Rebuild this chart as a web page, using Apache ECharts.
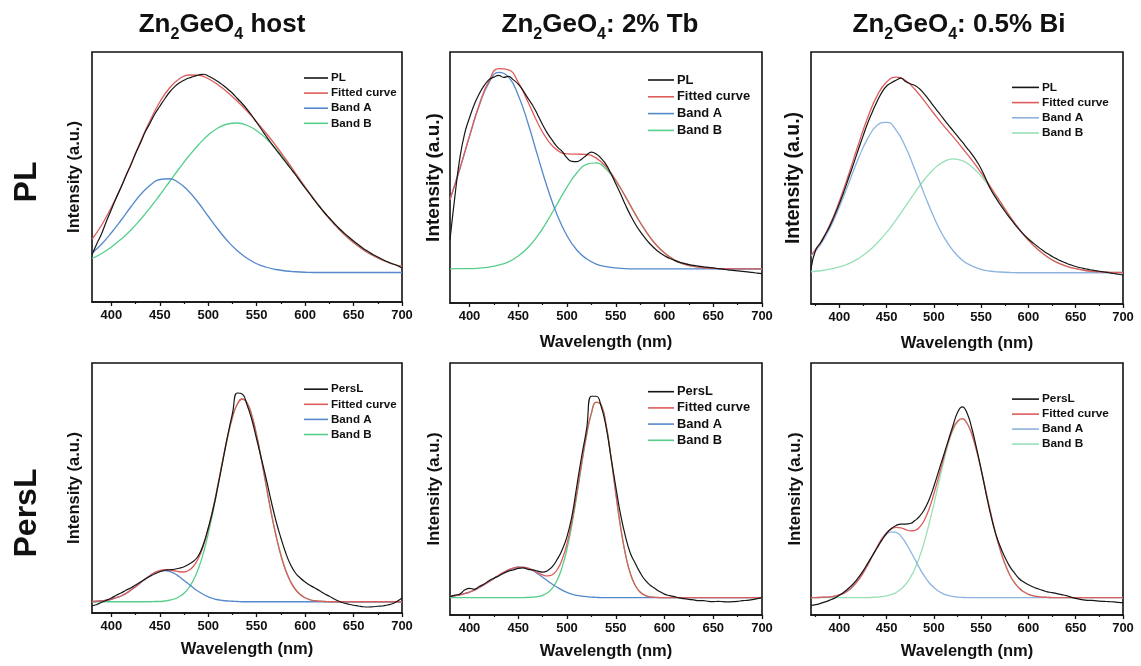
<!DOCTYPE html>
<html>
<head>
<meta charset="utf-8">
<script src="https://cdn.jsdelivr.net/npm/echarts@6/dist/echarts.min.js"></script>
<style>
  html, body { margin: 0; padding: 0; background: #ffffff; }
  #main { width: 1141px; height: 666px; }
</style>
</head>
<body>
<div id="main"></div>
<script>
// ---------- wavelength grids (nm) ----------
const wl10a = [380,390,400,410,420,430,440,450,460,470,480,490,500,510,520,530,540,550,560,570,580,590,600,610,620,630,640,650,660,670,680,690,700];
const wl10b = [370,380,390,400,410,420,430,440,450,460,470,480,490,500,510,520,530,540,550,560,570,580,590,600,610,620,630,640,650,660,670,680,690,700];
const wl5a = [380,385,390,395,400,405,410,415,420,425,430,435,440,445,450,455,460,465,470,475,480,485,490,495,500,505,510,515,520,525,530,535,540,545,550,555,560,565,570,575,580,585,590,595,600,605,610,615,620,625,630,635,640,645,650,655,660,665,670,675,680,685,690,695,700];
const wl5b = [370,375,380,385,390,395,400,405,410,415,420,425,430,435,440,445,450,455,460,465,470,475,480,485,490,495,500,505,510,515,520,525,530,535,540,545,550,555,560,565,570,575,580,585,590,595,600,605,610,615,620,625,630,635,640,645,650,655,660,665,670,675,680,685,690,695,700];

// ---------- axis tick values ----------
const majorTicks = [400, 450, 500, 550, 600, 650, 700];
const minorTicksA = [425, 475, 525, 575, 625, 675];
const minorTicksB = [375, 425, 475, 525, 575, 625, 675];

// ---------- text ----------
// each heading alternates normal text and subscript pieces
const columnTitles = [
  ['Zn', '2', 'GeO', '4', ' host'],
  ['Zn', '2', 'GeO', '4', ': 2% Tb'],
  ['Zn', '2', 'GeO', '4', ': 0.5% Bi']
];
const rowTitles = ['PL', 'PersL'];
const legendNames = { fit: 'Fitted curve', a: 'Band A', b: 'Band B' };
const xTitle = 'Wavelength (nm)';
const yTitle = 'Intensity (a.u.)';

// ---------- Zn2GeO4 host, PL (intensity, a.u.) ----------
const hostPL = [
  18.9, 23.3, 27.4, 32.4, 37.0, 41.6, 45.9, 50.5, 54.7, 59.4,
  63.6, 68.1, 71.6, 75.3, 78.3, 81.2, 83.9, 86.0, 87.6, 88.7,
  89.6, 90.2, 90.8, 91.1, 90.4, 89.4, 88.2, 86.8, 85.2, 83.5,
  81.4, 79.4, 77.1, 74.6, 71.8, 69.0, 66.2, 63.5, 60.9, 58.4,
  55.9, 53.4, 50.9, 48.2, 45.6, 43.1, 40.5, 38.1, 35.7, 33.6,
  31.5, 29.5, 27.7, 26.0, 24.4, 22.9, 21.4, 20.2, 19.0, 18.0,
  17.0, 16.1, 15.3, 14.6, 13.6
];
const hostPLFit = [25.1,30.8,37.9,46.0,54.9,64.1,72.6,80.0,85.6,89.2,90.8,90.7,89.3,86.9,83.8,80.3,76.4,72.0,67.4,62.4,57.1,51.6,46.0,40.7,35.7,31.2,27.2,23.8,20.9,18.6,16.7,15.3,14.2];
const hostPLBandA = [19.5,23.2,27.7,32.7,38.0,42.9,46.7,49.0,49.3,47.6,44.2,39.6,34.3,29.1,24.4,20.5,17.5,15.3,13.9,13.0,12.4,12.1,11.9,11.8,11.8,11.8,11.8,11.8,11.8,11.8,11.8,11.8,11.8];
const hostPLBandB = [17.4,19.4,22.0,25.1,28.7,33.0,37.7,42.8,48.1,53.4,58.4,62.9,66.8,69.6,71.2,71.6,70.7,68.5,65.3,61.2,56.5,51.3,45.9,40.7,35.7,31.2,27.2,23.8,20.9,18.6,16.7,15.3,14.2];

// ---------- Zn2GeO4: 2% Tb, PL ----------
const tbPL = [
  25.2, 42.4, 57.5, 67.5, 73.8, 79.2, 83.4, 86.6, 89.0, 90.0,
  90.7, 89.9, 90.3, 88.9, 87.2, 84.6, 81.5, 78.6, 74.9, 71.0,
  67.6, 64.8, 62.2, 60.4, 57.8, 56.4, 56.3, 57.3, 58.9, 60.1,
  59.4, 57.6, 55.2, 51.6, 47.5, 43.4, 39.0, 35.0, 31.5, 28.5,
  25.9, 23.6, 21.7, 20.1, 18.8, 17.8, 17.0, 16.3, 15.8, 15.3,
  15.0, 14.7, 14.4, 14.2, 14.0, 13.7, 13.5, 13.2, 13.0, 12.8,
  12.6, 12.4, 12.2, 11.9, 11.7
];
const tbPLFit = [41.2,53.4,66.5,79.0,88.5,93.4,92.9,87.9,80.1,71.7,65.0,60.9,59.4,59.3,59.2,57.7,54.3,49.0,42.4,35.4,29.1,23.8,19.9,17.2,15.5,14.6,14.0,13.8,13.7,13.6,13.6,13.6,13.6];
const tbPLBandA = [41.2,53.3,66.4,78.7,87.8,91.9,90.1,82.8,71.6,58.5,45.8,35.0,26.8,21.1,17.6,15.5,14.5,14.0,13.7,13.6,13.6,13.6,13.6,13.6,13.6,13.6,13.6,13.6,13.6,13.6,13.6,13.6,13.6];
const tbPLBandB = [13.6,13.7,13.7,13.9,14.3,15.1,16.4,18.7,22.1,26.8,32.8,39.5,46.2,51.8,55.2,55.8,53.4,48.6,42.3,35.4,29.1,23.8,19.9,17.2,15.5,14.6,14.0,13.8,13.7,13.6,13.6,13.6,13.6];

// ---------- Zn2GeO4: 0.5% Bi, PL ----------
const biPL = [
  14.0, 21.5, 24.2, 27.5, 31.0, 35.2, 39.8, 44.8, 50.2, 55.6,
  61.2, 66.6, 71.8, 76.3, 80.5, 84.0, 86.5, 87.8, 88.8, 89.6,
  88.3, 87.4, 86.7, 85.3, 83.3, 80.9, 78.4, 76.0, 73.6, 71.2,
  68.9, 66.6, 64.3, 61.9, 59.5, 56.8, 53.6, 49.6, 45.5, 42.4,
  39.5, 36.8, 34.3, 31.9, 29.6, 27.6, 25.8, 24.2, 22.7, 21.3,
  20.0, 18.9, 17.9, 17.0, 16.2, 15.5, 14.9, 14.4, 14.0, 13.6,
  13.3, 13.0, 12.7, 12.4, 12.1, 11.8, 11.5
];
const biPLFit = [19.4,24.4,31.5,40.8,51.6,63.2,74.0,82.7,88.1,90.0,88.7,85.1,80.5,75.6,70.9,66.5,61.9,57.2,52.0,46.4,40.7,35.0,29.8,25.3,21.6,18.7,16.5,15.0,14.0,13.3,12.9,12.7,12.5,12.5];
const biPLBandA = [19.0,23.6,30.1,38.5,48.0,57.6,65.7,70.9,72.1,69.0,62.3,53.2,43.5,34.4,26.9,21.3,17.4,15.1,13.7,13.0,12.7,12.5,12.4,12.4,12.4,12.4,12.4,12.4,12.4,12.4,12.4,12.4,12.4,12.4];
const biPLBandB = [12.8,13.2,13.8,14.7,16.0,18.0,20.7,24.2,28.4,33.4,38.8,44.3,49.4,53.6,56.4,57.6,56.9,54.5,50.7,45.8,40.4,34.9,29.8,25.3,21.6,18.7,16.5,15.0,14.0,13.3,12.9,12.7,12.5,12.5];

// ---------- Zn2GeO4 host, PersL ----------
const hostPersL = [
  2.9, 3.4, 4.3, 5.1, 6.0, 7.1, 8.0, 9.1, 10.0, 11.2,
  12.4, 13.6, 14.7, 15.7, 16.5, 17.1, 17.3, 17.5, 17.9, 18.5,
  19.5, 20.8, 23.0, 27.5, 34.0, 41.5, 50.8, 60.8, 70.8, 79.8,
  88.0, 87.6, 83.3, 77.3, 69.5, 61.5, 53.3, 44.7, 36.7, 30.0,
  24.0, 19.3, 16.0, 14.0, 12.4, 11.1, 10.0, 8.9, 7.7, 6.7,
  5.6, 4.7, 4.0, 3.5, 3.1, 2.8, 2.5, 2.4, 2.5, 2.7,
  2.8, 3.2, 3.7, 4.7, 6.0
];
const hostPersLFit = [
  4.6, 4.7, 4.9, 5.1, 5.5, 6.1, 6.8, 7.8, 9.1, 10.5,
  12.1, 13.6, 15.0, 16.3, 16.9, 17.3, 17.2, 16.9, 16.5, 16.4,
  17.1, 18.8, 22.0, 26.9, 33.7, 42.0, 51.4, 61.3, 70.6, 78.4,
  83.6, 85.6, 84.1, 79.0, 71.0, 61.1, 50.5, 40.1, 30.9, 23.1,
  17.0, 12.5, 9.4, 7.4, 6.1, 5.3, 4.9, 4.7, 4.6, 4.5,
  4.5, 4.5, 4.5, 4.5, 4.5, 4.5, 4.5, 4.5, 4.5, 4.5,
  4.5, 4.5, 4.5, 4.5, 4.5
];
const hostPersLBandA = [
  4.6, 4.7, 4.9, 5.1, 5.5, 6.1, 6.8, 7.8, 9.1, 10.5,
  12.1, 13.6, 15.0, 16.2, 16.8, 17.0, 16.6, 15.8, 14.5, 13.0,
  11.5, 9.9, 8.6, 7.4, 6.5, 5.8, 5.3, 5.0, 4.8, 4.7,
  4.6, 4.5, 4.5, 4.5, 4.5, 4.5, 4.5, 4.5, 4.5, 4.5,
  4.5, 4.5, 4.5, 4.5, 4.5, 4.5, 4.5, 4.5, 4.5, 4.5,
  4.5, 4.5, 4.5, 4.5, 4.5, 4.5, 4.5, 4.5, 4.5, 4.5,
  4.5, 4.5, 4.5, 4.5, 4.5
];
const hostPersLBandB = [
  4.5, 4.5, 4.5, 4.5, 4.5, 4.5, 4.5, 4.5, 4.5, 4.5,
  4.5, 4.5, 4.5, 4.6, 4.6, 4.8, 5.1, 5.6, 6.5, 7.9,
  10.1, 13.4, 17.9, 24.0, 31.7, 40.7, 50.6, 60.8, 70.3, 78.2,
  83.5, 85.6, 84.1, 79.0, 71.0, 61.1, 50.5, 40.1, 30.9, 23.1,
  17.0, 12.5, 9.4, 7.4, 6.1, 5.3, 4.9, 4.7, 4.6, 4.5,
  4.5, 4.5, 4.5, 4.5, 4.5, 4.5, 4.5, 4.5, 4.5, 4.5,
  4.5, 4.5, 4.5, 4.5, 4.5
];

// ---------- Zn2GeO4: 2% Tb, PersL ----------
const tbPersL = [
  7.3, 7.9, 8.3, 9.9, 10.6, 10.2, 11.3, 12.3, 13.6, 14.6,
  15.5, 16.6, 17.4, 17.9, 18.5, 18.7, 18.1, 17.9, 17.4, 17.0,
  17.6, 19.2, 22.1, 25.8, 31.1, 39.1, 51.0, 62.9, 73.5, 86.8,
  86.8, 82.8, 74.8, 62.9, 51.0, 39.7, 31.1, 24.5, 20.5, 16.8,
  13.9, 11.9, 10.6, 9.3, 8.3, 7.7, 7.3, 6.8, 6.5, 6.2,
  6.0, 5.7, 5.7, 5.4, 5.3, 5.4, 5.3, 5.2, 5.3, 5.4,
  5.7, 5.8, 6.1, 6.5, 6.9
];
const tbPersLFit = [
  7.4, 7.6, 8.0, 8.5, 9.1, 9.9, 10.9, 12.0, 13.2, 14.5,
  15.8, 16.9, 17.9, 18.6, 19.0, 18.9, 18.6, 17.8, 16.8, 15.9,
  15.5, 16.0, 18.0, 22.0, 28.3, 37.2, 48.2, 60.2, 71.5, 80.1,
  84.5, 83.4, 75.6, 62.9, 48.4, 34.8, 24.0, 16.4, 11.7, 9.1,
  7.8, 7.2, 7.0, 6.9, 6.9, 6.9, 6.9, 6.9, 6.9, 6.9,
  6.9, 6.9, 6.9, 6.9, 6.9, 6.9, 6.9, 6.9, 6.9, 6.9,
  6.9, 6.9, 6.9, 6.9, 6.9
];
const tbPersLBandA = [
  7.4, 7.6, 8.0, 8.5, 9.1, 9.9, 10.9, 12.0, 13.2, 14.5,
  15.8, 16.9, 17.9, 18.6, 19.0, 18.9, 18.5, 17.6, 16.4, 15.0,
  13.6, 12.2, 11.0, 9.9, 9.0, 8.3, 7.8, 7.5, 7.3, 7.1,
  7.0, 6.9, 6.9, 6.9, 6.9, 6.9, 6.9, 6.9, 6.9, 6.9,
  6.9, 6.9, 6.9, 6.9, 6.9, 6.9, 6.9, 6.9, 6.9, 6.9,
  6.9, 6.9, 6.9, 6.9, 6.9, 6.9, 6.9, 6.9, 6.9, 6.9,
  6.9, 6.9, 6.9, 6.9, 6.9
];
const tbPersLBandB = [
  6.9, 6.9, 6.9, 6.9, 6.9, 6.9, 6.9, 6.9, 6.9, 6.9,
  6.9, 6.9, 6.9, 6.9, 6.9, 6.9, 7.0, 7.1, 7.3, 7.8,
  8.8, 10.7, 13.9, 19.0, 26.2, 35.8, 47.3, 59.6, 71.1, 79.9,
  84.4, 83.4, 75.6, 62.9, 48.4, 34.8, 24.0, 16.4, 11.7, 9.1,
  7.8, 7.2, 7.0, 6.9, 6.9, 6.9, 6.9, 6.9, 6.9, 6.9,
  6.9, 6.9, 6.9, 6.9, 6.9, 6.9, 6.9, 6.9, 6.9, 6.9,
  6.9, 6.9, 6.9, 6.9, 6.9
];

// ---------- Zn2GeO4: 0.5% Bi, PersL ----------
const biPersL = [
  3.8, 4.1, 4.6, 5.2, 5.9, 6.7, 7.8, 9.1, 10.7, 12.5,
  14.8, 17.4, 20.5, 23.6, 26.7, 29.7, 32.4, 34.3, 35.5, 36.1,
  36.1, 36.3, 37.5, 39.2, 41.9, 45.8, 51.1, 57.1, 63.0, 69.0,
  74.9, 80.4, 82.6, 80.2, 74.2, 66.3, 57.7, 48.5, 39.9, 32.6,
  27.3, 23.0, 19.4, 16.8, 14.5, 13.1, 12.0, 11.1, 10.4, 9.8,
  9.2, 8.9, 8.5, 8.1, 7.7, 7.1, 6.6, 6.2, 5.9, 5.8,
  5.7, 5.5, 5.4, 5.3, 5.2, 5.0, 4.9
];
const biPersLFit = [
  6.9, 6.9, 7.0, 7.1, 7.2, 7.5, 8.0, 8.7, 9.9, 11.6,
  13.8, 16.6, 19.9, 23.5, 27.1, 30.3, 32.7, 34.2, 34.8, 34.6,
  33.9, 33.4, 33.6, 34.9, 37.7, 42.2, 48.1, 54.8, 61.9, 68.5,
  73.7, 76.9, 77.9, 76.1, 71.8, 65.4, 57.6, 49.0, 40.6, 32.8,
  26.0, 20.4, 16.1, 12.9, 10.7, 9.2, 8.2, 7.6, 7.3, 7.1,
  7.0, 6.9, 6.9, 6.9, 6.9, 6.9, 6.9, 6.9, 6.9, 6.9,
  6.9, 6.9, 6.9, 6.9, 6.9, 6.9, 6.9
];
const biPersLBandA = [
  6.9, 6.9, 7.0, 7.1, 7.2, 7.5, 8.0, 8.7, 9.9, 11.6,
  13.8, 16.6, 19.9, 23.4, 26.9, 29.9, 32.0, 33.0, 32.8, 31.3,
  28.7, 25.5, 22.0, 18.5, 15.4, 12.8, 10.9, 9.4, 8.4, 7.8,
  7.4, 7.1, 7.0, 6.9, 6.9, 6.9, 6.9, 6.9, 6.9, 6.9,
  6.9, 6.9, 6.9, 6.9, 6.9, 6.9, 6.9, 6.9, 6.9, 6.9,
  6.9, 6.9, 6.9, 6.9, 6.9, 6.9, 6.9, 6.9, 6.9, 6.9,
  6.9, 6.9, 6.9, 6.9, 6.9, 6.9, 6.9
];
const biPersLBandB = [
  6.9, 6.9, 6.9, 6.9, 6.9, 6.9, 6.9, 6.9, 6.9, 6.9,
  6.9, 6.9, 6.9, 7.0, 7.1, 7.3, 7.6, 8.1, 8.9, 10.2,
  12.1, 14.8, 18.5, 23.3, 29.2, 36.3, 44.1, 52.3, 60.4, 67.6,
  73.2, 76.7, 77.8, 76.1, 71.8, 65.4, 57.6, 49.0, 40.6, 32.8,
  26.0, 20.4, 16.1, 12.9, 10.7, 9.2, 8.2, 7.6, 7.3, 7.1,
  7.0, 6.9, 6.9, 6.9, 6.9, 6.9, 6.9, 6.9, 6.9, 6.9,
  6.9, 6.9, 6.9, 6.9, 6.9, 6.9, 6.9
];

// ---------- styling ----------
const FONT = "'Liberation Sans', Arial, Helvetica, sans-serif";
const INK = '#111111';
const COLORS = {
  data: '#161616',
  fit: '#df5c5c',
  a: '#5589cb', b: '#57cf8c',
  aLight: '#8db3de', bLight: '#98e0b6'
};

const pairs = (xs, ys) => xs.map((x, i) => [x, ys[i]]);

// one entry per panel: frame, axis range, legend placement and its curves
const panels = [
  { grid: { left: 92, top: 52, width: 310, height: 250 }, xmin: 380, minor: minorTicksA, xName: '',
    yFont: 16.5, yGap: 9, legend: { left: 304, top: 72, w: 24, font: 11.6, gap: 3.1 },
    dataName: 'PL', light: false,
    data: pairs(wl5a, hostPL), fit: pairs(wl10a, hostPLFit), a: pairs(wl10a, hostPLBandA), b: pairs(wl10a, hostPLBandB) },
  { grid: { left: 450, top: 52, width: 312, height: 251 }, xmin: 380, minor: minorTicksA, xName: xTitle,
    yFont: 19, yGap: 7, legend: { left: 648, top: 73.5, w: 26, font: 12.9, gap: 3.8 },
    dataName: 'PL', light: false,
    data: pairs(wl5a, tbPL), fit: pairs(wl10a, tbPLFit), a: pairs(wl10a, tbPLBandA), b: pairs(wl10a, tbPLBandB) },
  { grid: { left: 811, top: 52, width: 312, height: 252 }, xmin: 370, minor: minorTicksB, xName: xTitle,
    yFont: 19.5, yGap: 7, legend: { left: 1012, top: 81.4, w: 27, font: 11.8, gap: 3.2 },
    dataName: 'PL', light: true,
    data: pairs(wl5b, biPL), fit: pairs(wl10b, biPLFit), a: pairs(wl10b, biPLBandA), b: pairs(wl10b, biPLBandB) },
  { grid: { left: 92, top: 363, width: 310, height: 250 }, xmin: 380, minor: minorTicksA, xName: xTitle,
    yFont: 16.5, yGap: 9, legend: { left: 304, top: 383.2, w: 24, font: 11.6, gap: 3.1 },
    dataName: 'PersL', light: false,
    data: pairs(wl5a, hostPersL), fit: pairs(wl5a, hostPersLFit), a: pairs(wl5a, hostPersLBandA), b: pairs(wl5a, hostPersLBandB) },
  { grid: { left: 450, top: 363, width: 312, height: 252 }, xmin: 380, minor: minorTicksA, xName: xTitle,
    yFont: 16.7, yGap: 7, legend: { left: 648, top: 385.2, w: 26, font: 12.9, gap: 3.2 },
    dataName: 'PersL', light: false,
    data: pairs(wl5a, tbPersL), fit: pairs(wl5a, tbPersLFit), a: pairs(wl5a, tbPersLBandA), b: pairs(wl5a, tbPersLBandB) },
  { grid: { left: 811, top: 363, width: 312, height: 252 }, xmin: 370, minor: minorTicksB, xName: xTitle,
    yFont: 16.7, yGap: 7, legend: { left: 1012, top: 393.1, w: 27, font: 11.8, gap: 3.0 },
    dataName: 'PersL', light: true,
    data: pairs(wl5b, biPersL), fit: pairs(wl5b, biPersLFit), a: pairs(wl5b, biPersLBandA), b: pairs(wl5b, biPersLBandB) }
];

const grids = [], xAxes = [], yAxes = [], series = [], legends = [];

panels.forEach((p, i) => {
  const row = i < 3 ? 0 : 1;
  grids.push(Object.assign({ show: true, borderColor: INK, borderWidth: 1.6, backgroundColor: 'transparent' }, p.grid));

  // major axis: labels and long ticks
  xAxes.push({
    type: 'value', gridIndex: i, min: p.xmin, max: 700,
    name: p.xName, nameLocation: 'middle', nameGap: row === 0 ? 31 : 28,
    nameTextStyle: { fontFamily: FONT, fontWeight: 'bold', fontSize: 16.5, color: INK },
    axisLine: { show: true, lineStyle: { color: INK, width: 1.6 } },
    axisTick: { show: true, inside: false, length: 4, customValues: majorTicks, lineStyle: { color: INK, width: 1.3 } },
    axisLabel: { show: true, customValues: majorTicks, margin: 7, fontFamily: FONT, fontWeight: 'bold', fontSize: 13, color: INK },
    splitLine: { show: false }
  });
  // companion axis carrying only the short minor ticks
  xAxes.push({
    type: 'value', gridIndex: i, min: p.xmin, max: 700, position: 'bottom',
    axisLine: { show: false },
    axisTick: { show: true, inside: false, length: 2, customValues: p.minor, lineStyle: { color: INK, width: 1.2 } },
    axisLabel: { show: false },
    splitLine: { show: false }
  });
  yAxes.push({
    type: 'value', gridIndex: i, min: 0, max: 100,
    name: yTitle, nameLocation: 'middle', nameGap: p.yGap, nameRotate: 90,
    nameTextStyle: { fontFamily: FONT, fontWeight: 'bold', fontSize: p.yFont, color: INK },
    axisLine: { show: false }, axisTick: { show: false }, axisLabel: { show: false }, splitLine: { show: false }
  });

  const cA = p.light ? COLORS.aLight : COLORS.a;
  const cB = p.light ? COLORS.bLight : COLORS.b;
  const line = (name, data, color, width) => ({
    type: 'line', name, data, xAxisIndex: 2 * i, yAxisIndex: i,
    symbol: 'none', smooth: 0.5, silent: true,
    lineStyle: { color, width }, itemStyle: { color }
  });
  series.push(line(legendNames.b, p.b, cB, 1.3));
  series.push(line(legendNames.a, p.a, cA, 1.3));
  series.push(line(legendNames.fit, p.fit, COLORS.fit, 1.3));
  series.push(line(p.dataName, p.data, COLORS.data, 1.2));

  legends.push({
    show: true, orient: 'vertical', left: p.legend.left, top: p.legend.top, padding: 0,
    itemWidth: p.legend.w, itemHeight: 1.6, itemGap: p.legend.gap, icon: 'rect', selectedMode: false,
    textStyle: { fontFamily: FONT, fontWeight: 'bold', fontSize: p.legend.font, color: INK, padding: [0, 0, 0, -2] },
    data: [
      { name: p.dataName, itemStyle: { color: COLORS.data } },
      { name: legendNames.fit, itemStyle: { color: COLORS.fit } },
      { name: legendNames.a, itemStyle: { color: cA } },
      { name: legendNames.b, itemStyle: { color: cB } }
    ]
  });
});

// column headings: normal pieces and lowered subscript pieces laid out side by side
const measureCtx = document.createElement('canvas').getContext('2d');
const textWidth = (text, font) => { measureCtx.font = font; return measureCtx.measureText(text).width; };
const MAIN_FONT = 'bold 26px ' + FONT;
const SUB_FONT = 'bold 16px ' + FONT;
const titleX = [222, 600, 959];
const titleY = 24.5, subY = 35;
const graphics = [];
columnTitles.forEach((parts, i) => {
  const fonts = parts.map((_, k) => (k % 2 === 1 ? SUB_FONT : MAIN_FONT));
  const widths = parts.map((t, k) => textWidth(t, fonts[k]));
  let x = titleX[i] - widths.reduce((s, w) => s + w, 0) / 2;
  parts.forEach((t, k) => {
    graphics.push({
      type: 'text', x: x, y: k % 2 === 1 ? subY : titleY, silent: true,
      style: { text: t, font: fonts[k], fill: INK, align: 'left', verticalAlign: 'middle' }
    });
    x += widths[k];
  });
});
const rowY = [182, 513];
rowTitles.forEach((t, i) => {
  graphics.push({
    type: 'text', x: 27, y: rowY[i], rotation: Math.PI / 2, silent: true,
    style: { text: t, align: 'center', verticalAlign: 'middle', fill: INK, font: 'bold 32px ' + FONT }
  });
});

const chart = echarts.init(document.getElementById('main'), null, { renderer: 'canvas' });
chart.setOption({
  animation: false,
  backgroundColor: '#ffffff',
  grid: grids,
  xAxis: xAxes,
  yAxis: yAxes,
  legend: legends,
  series: series,
  graphic: graphics
});
</script>
</body>
</html>
